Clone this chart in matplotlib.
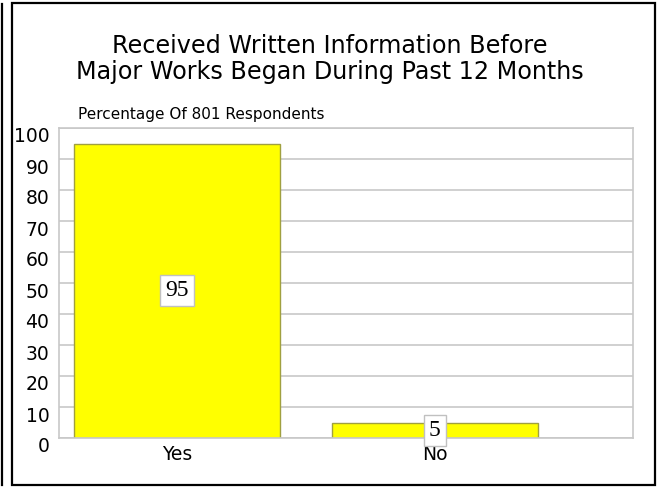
import matplotlib.pyplot as plt
from matplotlib.lines import Line2D
from matplotlib.patches import Rectangle
from matplotlib.transforms import ScaledTranslation

categories = ["Yes", "No"]
values = [95, 5]
title = "Received Written Information Before\nMajor Works Began During Past 12 Months"
axis_note = "Percentage Of 801 Respondents"

W, H = 657, 487
fig = plt.figure(figsize=(W / 100, H / 100), dpi=100)

# page frame: outer rule + boxed chart
fig.add_artist(Line2D([1.5 / W, 1.5 / W], [1 - 4 / H, 1 - 485 / H], color="black", lw=1.6))
fig.add_artist(Rectangle((12 / W, 1 - 485 / H), (655 - 12) / W, (485 - 3) / H,
                         fill=False, edgecolor="black", lw=1.6))

ax = fig.add_axes([59 / W, 1 - 438 / H, (633 - 59) / W, (438 - 128) / H])
ax.set_ylim(0, 100)
ax.set_xlim(-0.46, 1.77)

grid_color = "#c8c8c8"
ax.set_yticks(range(0, 101, 10))
ax.yaxis.grid(True, color=grid_color, lw=1.2)
ax.set_axisbelow(True)
for s in ax.spines.values():
    s.set_color(grid_color)
    s.set_linewidth(1.2)
ax.tick_params(axis="y", length=0, labelsize=13.5, pad=7)
ax.tick_params(axis="x", length=0, labelsize=13.5, pad=5)

# y labels sit a few pixels below their gridlines in the original
shift = ScaledTranslation(0, -7 / 100, fig.dpi_scale_trans)
for lbl in ax.get_yticklabels():
    lbl.set_transform(lbl.get_transform() + shift)

x = range(len(categories))
ax.bar(x, values, width=0.8, color="#ffff00", edgecolor="#a0a040", lw=1)
ax.set_xticks(list(x))
ax.set_xticklabels(categories)

for xi, v in zip(x, values):
    ax.text(xi, v / 2, str(v), ha="center", va="center", family="Liberation Serif",
            fontsize=17,
            bbox=dict(boxstyle="square,pad=0.22", facecolor="white", edgecolor="#c0c0c0", lw=1))

fig.text(330 / W, 1 - 59 / H, title, ha="center", va="center", fontsize=17.2, linespacing=1.15)
fig.text(78 / W, 1 - 115 / H, axis_note, ha="left", va="center", fontsize=11)

fig.savefig("out.png", dpi=100)
